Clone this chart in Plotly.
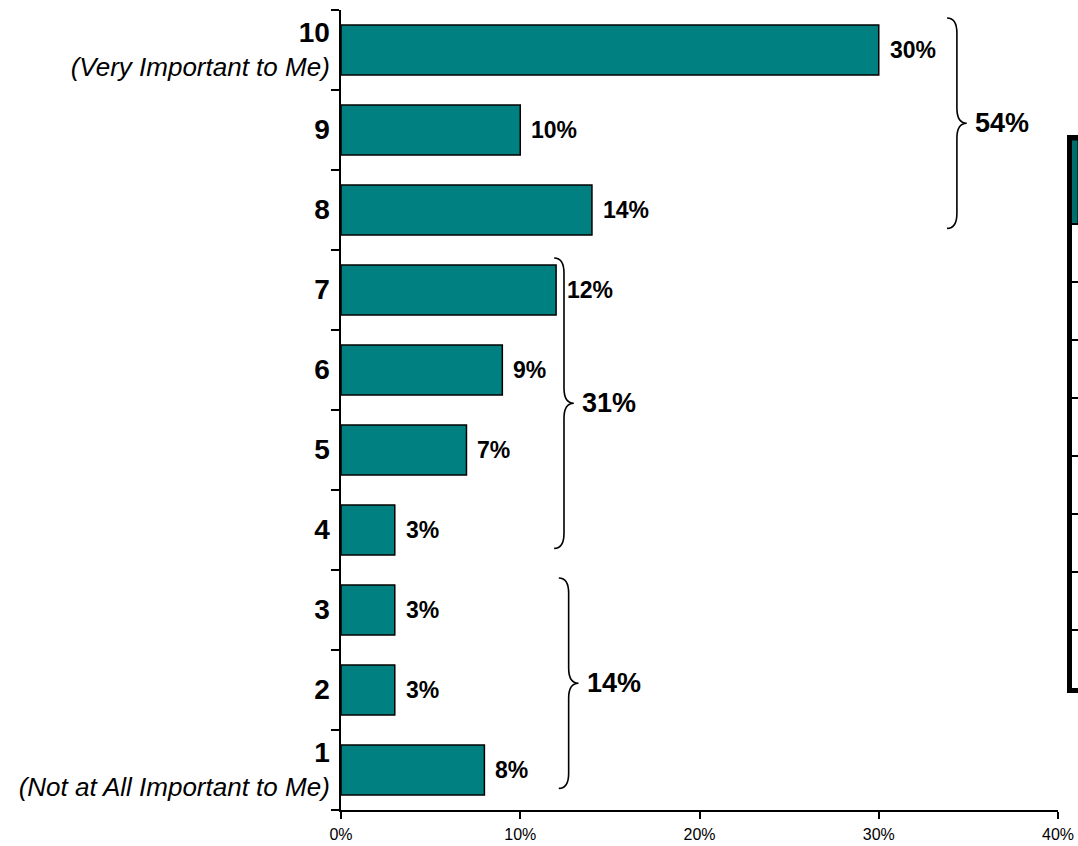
import plotly.graph_objects as go

# Importance rating (1-10) and share of respondents choosing each rating
categories = ["1", "2", "3", "4", "5", "6", "7", "8", "9", "10"]
shares = [8, 3, 3, 3, 7, 9, 12, 14, 10, 30]
anchor_notes = {"10": "(Very Important to Me)", "1": "(Not at All Important to Me)"}

x_ticks = [0, 10, 20, 30, 40]
x_tick_labels = ["0%", "10%", "20%", "30%", "40%"]

# Rating bands summarised by a brace: (lowest rating, highest rating)
bands = [("8", "10"), ("4", "7"), ("1", "3")]

# Neighbouring panel, cut off at the right edge
side_ticks = [1, 2, 3, 4, 5, 6, 7, 8]
side_base = [8]
side_value = [1.45]

TEAL = "#008080"
FONT = "Arial, Liberation Sans, sans-serif"

# Brace placement (x of the spine, in axis %)
brace_spine = [34.36, 12.44, 12.7]
BRACE_W = 0.55      # horizontal hook size, %
BRACE_R = 0.19      # vertical curl size, category units
BRACE_TOP = 0.40
BRACE_BOT = 0.23


def tick_label(cat):
    s = f"<span style='font-size:28px'><b>{cat}</b></span>"
    if cat in anchor_notes:
        s += f"<br><i>{anchor_notes[cat]}</i>"
    return s


labels = [tick_label(c) for c in categories]

fig = go.Figure()

fig.add_trace(go.Bar(
    y=labels,
    x=shares,
    orientation="h",
    marker=dict(color=TEAL, line=dict(color="black", width=1.5)),
    hoverinfo="skip",
))

# Value labels next to each bar
for lab, v in zip(labels, shares):
    fig.add_annotation(
        x=v, y=lab, xref="x", yref="y",
        text=f"<b>{v}%</b>", showarrow=False,
        xanchor="left", yanchor="middle", xshift=9,
        font=dict(family=FONT, size=23, color="black"),
    )

# Curly braces with band totals
for (lo, hi), xs in zip(bands, brace_spine):
    i_lo, i_hi = categories.index(lo), categories.index(hi)
    total = sum(shares[i_lo:i_hi + 1])
    yt = i_hi + BRACE_TOP
    yb = i_lo - BRACE_BOT
    ym = (yt + yb) / 2
    w, r = BRACE_W, BRACE_R
    path = (
        f"M {xs - w},{yt} Q {xs},{yt} {xs},{yt - r} "
        f"L {xs},{ym + r} Q {xs},{ym} {xs + w},{ym} "
        f"Q {xs},{ym} {xs},{ym - r} "
        f"L {xs},{yb + r} Q {xs},{yb} {xs - w},{yb}"
    )
    fig.add_shape(type="path", path=path, xref="x", yref="y",
                  line=dict(color="black", width=1.6))
    fig.add_annotation(
        x=xs + w, y=ym, xref="x", yref="y",
        text=f"<b>{total}%</b>", showarrow=False,
        xanchor="left", yanchor="middle", xshift=6,
        font=dict(family=FONT, size=27, color="black"),
    )

# Edge of the neighbouring panel
fig.add_trace(go.Bar(
    x=[0.5], y=side_value, base=side_base, width=[1.0],
    xaxis="x2", yaxis="y2",
    marker=dict(color="#006f6b", line=dict(color="black", width=1)),
    hoverinfo="skip",
))

fig.update_layout(
    width=1078, height=846,
    margin=dict(l=341, r=0, t=10, b=36, autoexpand=False),
    paper_bgcolor="white", plot_bgcolor="white",
    showlegend=False,
    bargap=0.375,
    font=dict(family=FONT, color="black"),
    xaxis=dict(
        domain=[0, 717 / 737],
        range=[0, 40], automargin=False,
        tickmode="array", tickvals=x_ticks, ticktext=x_tick_labels,
        ticks="outside", ticklen=7, tickwidth=2, tickcolor="black",
        showline=True, linewidth=2, linecolor="black",
        showgrid=False, zeroline=False,
        tickfont=dict(family=FONT, size=16, color="black"),
        ticklabelstandoff=2,
    ),
    yaxis=dict(
        type="category", automargin=False,
        categoryorder="array", categoryarray=labels,
        range=[-0.5, 9.5],
        tickson="boundaries",
        ticks="outside", ticklen=8, tickwidth=2, tickcolor="black",
        showline=True, linewidth=2, linecolor="black",
        showgrid=False, zeroline=False,
        tickfont=dict(family=FONT, size=26, color="black"),
        ticklabelstandoff=4,
    ),
    xaxis2=dict(
        domain=[0.9912, 1], anchor="y2", range=[0, 1], automargin=False,
        showline=True, mirror=True, linewidth=5, linecolor="black",
        showticklabels=False, ticks="", showgrid=False, zeroline=False,
    ),
    yaxis2=dict(
        domain=[0.1525, 0.8375], anchor="x2", range=[0, 9.45], automargin=False,
        showline=True, linewidth=5, linecolor="black",
        tickmode="array", tickvals=side_ticks,
        ticks="inside", ticklen=7, tickwidth=2, tickcolor="black",
        showticklabels=False, showgrid=False, zeroline=False,
    ),
)

fig.write_html("out.html")
